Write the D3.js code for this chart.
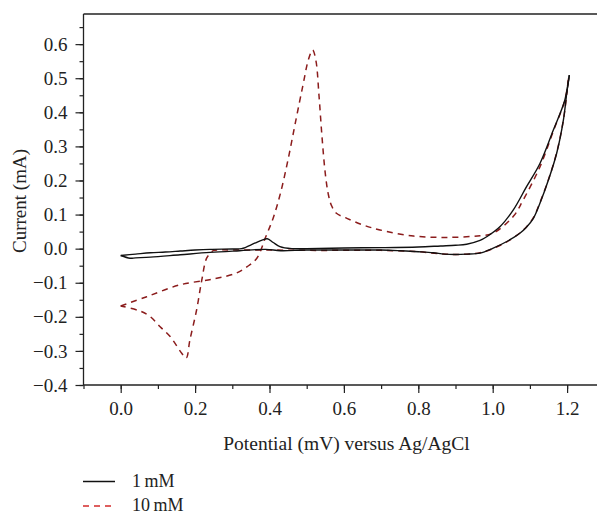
<!DOCTYPE html>
<html>
<head>
<meta charset="utf-8">
<script src="https://cdn.jsdelivr.net/npm/d3@7"></script>
<style>
  html, body { margin: 0; padding: 0; background: #fff; }
  svg text { font-family: "Liberation Serif", "Times New Roman", serif; fill: #222; }
</style>
</head>
<body>
<svg id="chart" width="597" height="514"></svg>
<script>
// ---- data (potential in V, current in mA) ----
const fwd1Potential = [0.00,0.04,0.08,0.12,0.16,0.20,0.24,0.30,0.325,0.36,0.38,0.394,0.41,0.428,0.46,0.50,0.60,0.70,0.80,0.86,0.90,0.93,0.966,0.984,1.02,1.055,1.091,1.127,1.163,1.194,1.206];
const fwd1Current   = [-0.020,-0.016,-0.012,-0.010,-0.007,-0.004,-0.002,-0.001,0.000,0.016,0.025,0.029,0.018,0.006,0.000,0.000,0.002,0.003,0.005,0.008,0.010,0.013,0.024,0.035,0.065,0.113,0.182,0.250,0.348,0.436,0.509];
const rev1Potential = [1.206,1.200,1.19,1.172,1.15,1.127,1.109,1.09,1.073,1.038,1.00,0.966,0.93,0.90,0.87,0.84,0.80,0.75,0.70,0.60,0.50,0.43,0.39,0.32,0.24,0.16,0.08,0.04,0.025,0.00];
const rev1Current   = [0.509,0.465,0.377,0.280,0.202,0.133,0.088,0.062,0.045,0.021,0.001,-0.013,-0.016,-0.017,-0.016,-0.012,-0.009,-0.006,-0.004,-0.004,-0.004,-0.006,-0.002,-0.006,-0.011,-0.018,-0.025,-0.027,-0.028,-0.020];
const fwd10Potential = [0.00,0.07,0.16,0.25,0.31,0.34,0.366,0.39,0.41,0.43,0.45,0.47,0.49,0.505,0.516,0.525,0.533,0.541,0.55,0.558,0.566,0.58,0.608,0.65,0.697,0.787,0.876,0.966,1.00,1.055,1.082,1.127,1.163,1.194,1.204];
const fwd10Current   = [-0.168,-0.141,-0.106,-0.089,-0.072,-0.053,-0.028,0.035,0.090,0.165,0.262,0.372,0.480,0.556,0.583,0.550,0.450,0.330,0.220,0.160,0.128,0.104,0.089,0.070,0.055,0.037,0.033,0.038,0.045,0.094,0.143,0.240,0.345,0.436,0.500];
const rev10Potential = [1.204,1.200,1.19,1.172,1.15,1.127,1.109,1.09,1.073,1.038,1.00,0.966,0.903,0.867,0.80,0.70,0.60,0.50,0.40,0.30,0.25,0.245,0.231,0.218,0.204,0.186,0.176,0.164,0.133,0.106,0.079,0.052,0.00];
const rev10Current   = [0.500,0.462,0.377,0.282,0.203,0.135,0.090,0.063,0.046,0.020,0.000,-0.012,-0.017,-0.016,-0.009,-0.005,-0.005,-0.005,-0.004,-0.004,-0.005,-0.009,-0.028,-0.092,-0.180,-0.268,-0.321,-0.307,-0.258,-0.229,-0.199,-0.183,-0.168];

const xTicks = [0.0,0.2,0.4,0.6,0.8,1.0,1.2];
const yTicks = [-0.4,-0.3,-0.2,-0.1,0.0,0.1,0.2,0.3,0.4,0.5,0.6];
const seriesNames = ["1 mM","10 mM"];

// ---- layout ----
const svg = d3.select("#chart");
const plotLeft = 83.5, plotTop = 14, plotBottom = 385;
const x = d3.scaleLinear().domain([-0.1, 1.3]).range([plotLeft, 604.3]);
const y = d3.scaleLinear().domain([-0.4, 0.6884]).range([plotBottom, plotTop]);

const axisColor = "#222";

// frame: top line
svg.append("line").attr("x1", plotLeft).attr("x2", 597).attr("y1", plotTop).attr("y2", plotTop)
  .attr("stroke", axisColor).attr("stroke-width", 1.3);

// X axis
const gx = svg.append("g").attr("transform", `translate(0,${plotBottom})`);
gx.call(d3.axisBottom(x).tickValues(d3.range(-1, 14).map(d => d / 10)).tickSize(4).tickFormat(""))
  .call(g => g.select(".domain").remove());
gx.selectAll(".tick line").attr("stroke", axisColor).attr("stroke-width", 1.2);
const gx2 = svg.append("g").attr("transform", `translate(0,${plotBottom})`);
gx2.call(d3.axisBottom(x).tickValues(xTicks).tickSize(8).tickPadding(9).tickFormat(d3.format(".1f")));
gx2.select(".domain").remove();
gx2.selectAll(".tick line").attr("stroke", axisColor).attr("stroke-width", 1.2);
gx2.selectAll("text").attr("font-size", 19).attr("font-family", "Liberation Serif").attr("fill", "#222");
svg.append("line").attr("x1", plotLeft).attr("x2", 597).attr("y1", plotBottom).attr("y2", plotBottom)
  .attr("stroke", axisColor).attr("stroke-width", 1.3);

// Y axis
const gy = svg.append("g").attr("transform", `translate(${plotLeft},0)`);
gy.call(d3.axisLeft(y).tickValues(d3.range(-8, 14).map(d => d / 20)).tickSize(4).tickFormat(""))
  .call(g => g.select(".domain").remove());
gy.selectAll(".tick line").attr("stroke", axisColor).attr("stroke-width", 1.2);
const gy2 = svg.append("g").attr("transform", `translate(${plotLeft},0)`);
gy2.call(d3.axisLeft(y).tickValues(yTicks).tickSize(8).tickPadding(8)
  .tickFormat(d => (d < 0 ? "\u2212" + Math.abs(d).toFixed(1) : d.toFixed(1))));
gy2.select(".domain").remove();
gy2.selectAll(".tick line").attr("stroke", axisColor).attr("stroke-width", 1.2);
gy2.selectAll("text").attr("font-size", 19).attr("font-family", "Liberation Serif").attr("fill", "#222");
svg.append("line").attr("x1", plotLeft).attr("x2", plotLeft).attr("y1", plotTop).attr("y2", plotBottom)
  .attr("stroke", axisColor).attr("stroke-width", 1.3);

// Axis titles
svg.append("text").attr("x", 346.5).attr("y", 450).attr("text-anchor", "middle")
  .attr("font-size", 19.5).text("Potential (mV) versus Ag/AgCl");
svg.append("text").attr("transform", "translate(26,201) rotate(-90)").attr("text-anchor", "middle")
  .attr("font-size", 19).text("Current (mA)");

// ---- curves ----
const line = d3.line().x(d => x(d[0])).y(d => y(d[1])).curve(d3.curveCatmullRom.alpha(0.5));
const zip = (a, b) => a.map((v, i) => [v, b[i]]);

const plot = svg.append("g");
const red10 = "#8b1c1c";
plot.append("path").datum(zip(fwd10Potential, fwd10Current)).attr("d", line)
  .attr("fill", "none").attr("stroke", red10).attr("stroke-width", 1.5).attr("stroke-dasharray", "6,5");
plot.append("path").datum(zip(rev10Potential, rev10Current)).attr("d", line)
  .attr("fill", "none").attr("stroke", red10).attr("stroke-width", 1.5).attr("stroke-dasharray", "6,5");
plot.append("path").datum(zip(fwd1Potential, fwd1Current)).attr("d", line)
  .attr("fill", "none").attr("stroke", "#111").attr("stroke-width", 1.4);
plot.append("path").datum(zip(rev1Potential, rev1Current)).attr("d", line)
  .attr("fill", "none").attr("stroke", "#111").attr("stroke-width", 1.4);

// ---- legend ----
const legend = svg.append("g");
const legY = [481.5, 506];
const legStyles = [{stroke: "#111", dash: null}, {stroke: "#d42a2a", dash: "6,5"}];
seriesNames.forEach((name, i) => {
  legend.append("line").attr("x1", 83).attr("x2", 115).attr("y1", legY[i]).attr("y2", legY[i])
    .attr("stroke", legStyles[i].stroke).attr("stroke-width", 1.5)
    .attr("stroke-dasharray", legStyles[i].dash);
  legend.append("text").attr("x", 132).attr("y", legY[i] + 5).attr("font-size", 18)
    .text(name.replace(" ", "\u2009"));
});
</script>
</body>
</html>
